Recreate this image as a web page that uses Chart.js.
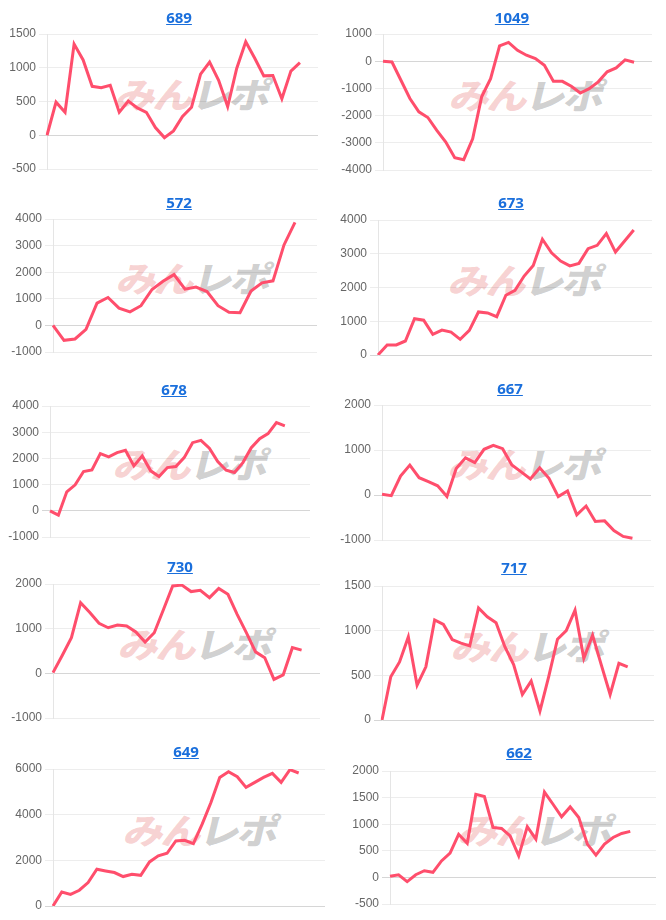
<!DOCTYPE html>
<html><head><meta charset="utf-8">
<script src="https://cdn.jsdelivr.net/npm/chart.js@4"></script>
<style>
html,body{margin:0;padding:0;background:#fff;}
#wrap{position:relative;width:666px;height:920px;overflow:hidden;}
.cell{position:absolute;width:333px;height:184px;}
.title{position:absolute;transform:translate(-50%,-50%);font:700 15px "Noto Sans",sans-serif;color:#1a6fdc;text-decoration:underline;white-space:nowrap;z-index:3;}
.wm{position:absolute;transform:translate(-50%,-50%) scaleX(1.15) skewX(-12deg);font:900 35px "Noto Sans CJK JP",sans-serif;white-space:nowrap;z-index:0;letter-spacing:-2px;line-height:1;}
.wm .a{color:rgba(225,80,80,0.26);} .wm .b{color:rgba(110,110,110,0.33);}
canvas{position:absolute;left:0;top:0;z-index:1;}
</style>
</head><body><div id="wrap"></div>
<script>
// ---- data ----
const titles = ['689','1049','572','673','678','667','730','717','649','662'];
const s689  = [0,490,340,1350,1115,725,705,740,340,505,405,340,115,-35,65,280,415,905,1085,815,425,990,1385,1140,880,885,540,950,1075];
const s1049 = [0,-30,-700,-1370,-1860,-2070,-2540,-2970,-3550,-3620,-2850,-1310,-640,560,690,400,220,100,-150,-740,-740,-920,-1170,-1010,-760,-390,-245,50,-40];
const s572  = [0,-560,-510,-150,840,1050,650,510,740,1350,1660,1910,1360,1440,1275,740,490,475,1290,1600,1675,3025,3875];
const s673  = [0,300,300,415,1075,1030,610,740,680,465,730,1275,1245,1135,1770,1915,2340,2655,3430,3030,2785,2640,2715,3150,3250,3595,3050,3380,3705];
const s678  = [0,-165,725,990,1500,1560,2185,2060,2220,2310,1715,2095,1525,1310,1650,1690,2030,2600,2690,2390,1880,1550,1460,1840,2410,2755,2945,3365,3240];
const s667  = [15,-15,420,665,385,295,205,-35,590,825,720,1015,1105,1030,665,515,355,605,370,-35,90,-440,-245,-590,-575,-790,-920,-960];
const s730  = [15,400,800,1580,1360,1120,1020,1080,1060,925,700,910,1430,1955,1975,1830,1860,1695,1900,1770,1320,910,480,350,-135,-35,575,520];
const s717  = [0,485,650,930,390,595,1120,1070,900,860,830,1255,1155,1090,820,620,285,435,100,485,905,1000,1230,690,950,615,285,635,595];
const s649  = [0,615,510,690,1025,1610,1535,1465,1290,1390,1345,1930,2195,2310,2850,2880,2735,3585,4535,5630,5880,5660,5195,5415,5630,5810,5415,5970,5825];
const s662  = [20,50,-80,50,125,95,310,455,810,640,1560,1520,940,920,780,405,955,720,1605,1375,1140,1325,1125,625,420,625,750,825,865];
const series = [s689,s1049,s572,s673,s678,s667,s730,s717,s649,s662];
// x categories (days); each chart uses the first N
const days = ['1','2','3','4','5','6','7','8','9','10','11','12','13','14','15','16','17','18','19','20','21','22','23','24','25','26','27','28','29','30','31','32'];
const labelCount = [31,31,25,31,32,30,30,32,32,32];
// y-axis ticks
const yMax  = [1500,1000,4000,4000,4000,2000,2000,1500,6000,2000];
const yMin  = [-500,-4000,-1000,0,-1000,-1000,-1000,0,0,-500];
const yStep = [500,1000,1000,1000,1000,1000,1000,500,2000,500];

// ---- layout (positions only) ----
const cellPos = [[0,0],[333,0],[0,184],[333,184],[0,368],[333,368],[0,552],[333,552],[0,736],[333,736]];
// [axisWidth, padTop, padRight, padBottom]
const plotPad = [[47,34,15,15],[50,34,14,14],[53,35,16,16],[45,36,14,13],[50,38,23,15],[49,37,15,12],[53,32,13,18],[49,34,12,16],[53,33,8,14],[57,35,10,16]];
const titlePos = [[179,17],[179,17],[179,18],[178,18],[174,21],[177,20],[180,14],[181,15],[186,15],[186,16]];
const wmPos = [[194,92],[195,93],[195,92],[194,94],[192,94],[194,94],[197,90],[197,92],[202,92],[204,92]];

const wrap = document.getElementById('wrap');
const LINE = 'rgb(255,78,108)';
series.forEach((data, i) => {
  const cell = document.createElement('div');
  cell.className = 'cell';
  cell.style.left = cellPos[i][0] + 'px';
  cell.style.top = cellPos[i][1] + 'px';
  const a = document.createElement('a');
  a.className = 'title'; a.href = '#'; a.textContent = titles[i];
  a.style.left = titlePos[i][0] + 'px'; a.style.top = titlePos[i][1] + 'px';
  const wm = document.createElement('div');
  wm.className = 'wm';
  wm.innerHTML = '<span class="a">みん</span><span class="b">レポ</span>';
  wm.style.left = wmPos[i][0] + 'px'; wm.style.top = wmPos[i][1] + 'px';
  const cv = document.createElement('canvas');
  cv.width = 333; cv.height = 184;
  cell.appendChild(wm); cell.appendChild(cv); cell.appendChild(a);
  wrap.appendChild(cell);
  const p = plotPad[i];
  new Chart(cv, {
    type: 'line',
    data: {
      labels: days.slice(0, labelCount[i]),
      datasets: [{ data: data, borderColor: LINE, borderWidth: 3, pointRadius: 0, tension: 0, fill: false }]
    },
    options: {
      responsive: false, animation: false, devicePixelRatio: 1,
      layout: { padding: { left: 0, top: p[1], right: p[2], bottom: p[3] } },
      plugins: { legend: { display: false }, tooltip: { enabled: false } },
      scales: {
        x: { display: false },
        y: {
          min: yMin[i], max: yMax[i],
          afterFit: (s) => { s.width = p[0]; },
          ticks: { stepSize: yStep[i], color: '#666', font: { size: 12, family: "'Liberation Sans', Arial, sans-serif" }, padding: 3,
                   callback: (v) => String(v) },
          grid: { color: (c) => (c.tick && c.tick.value === 0) ? 'rgba(0,0,0,0.16)' : 'rgba(0,0,0,0.07)', tickLength: 8 },
          border: { color: 'rgba(0,0,0,0.1)' }
        }
      }
    }
  });
});
</script>
</body></html>
